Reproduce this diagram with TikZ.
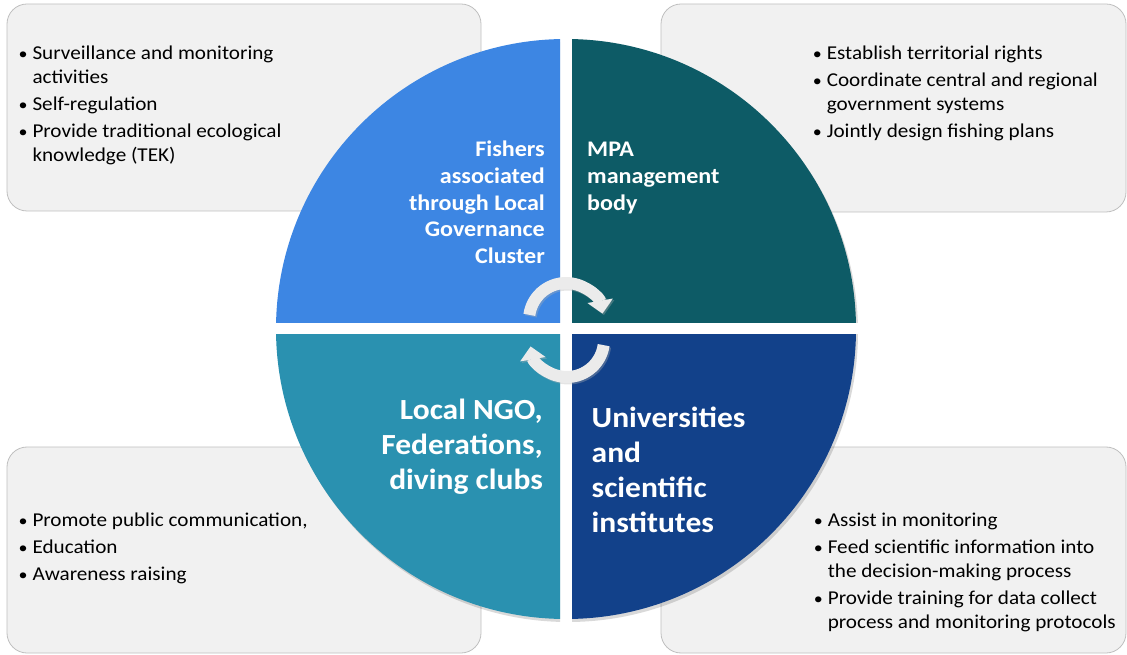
\documentclass[tikz,border=0pt]{standalone}
\usepackage{fontspec}
\setmainfont{Carlito}[FakeStretch=1.08]
\usetikzlibrary{positioning, arrows.meta}

\definecolor{fishblue}{HTML}{3D86E3}
\definecolor{mpateal}{HTML}{0D5B66}
\definecolor{ngoblue}{HTML}{2A91B0}
\definecolor{uninavy}{HTML}{12418A}
\definecolor{boxfill}{HTML}{F1F1F1}
\definecolor{boxline}{HTML}{BFBFBF}
\definecolor{cyclegray}{HTML}{EBEBEB}

\newcommand{\bul}{\makebox[19pt][c]{\scalebox{0.85}{\textbullet}}}
\newcommand{\nobul}{\hspace*{19pt}}

\begin{document}
\begin{tikzpicture}[x=1pt, y=1pt]
\tikzset{
  infobox/.style={draw=boxline, fill=boxfill, line width=0.8pt,
    rounded corners=20pt, inner sep=0pt},
  bullets/.style={align=left, inner sep=0pt,
    font=\fontsize{19.6}{24}\selectfont},
  rolesmall/.style={text=white, inner sep=0pt,
    font=\bfseries\fontsize{22.3}{26.67}\selectfont},
  rolebig/.style={text=white, inner sep=0pt,
    font=\bfseries\fontsize{29.2}{35}\selectfont},
  cyclearrow/.style={draw=cyclegray, line width=12pt,
    -{Triangle[length=13pt, width=25pt]}},
  cycleshadow/.style={cyclearrow, draw=black!30, opacity=0.35},
}

\useasboundingbox (0,0) rectangle (1127,654);

% grey boxes behind the wheel
\node[infobox, minimum width=474pt, minimum height=207pt] (tlbox) at (244,546.5) {};
\node[infobox, minimum width=465pt, minimum height=208pt] (trbox) at (893.5,546) {};
\node[infobox, minimum width=474pt, minimum height=206pt] (blbox) at (244,104) {};
\node[infobox, minimum width=465pt, minimum height=206pt] (brbox) at (893.5,104) {};

% the wheel
\coordinate (hub) at (566,325);
\foreach \sx/\sy/\col in {-1/1/fishblue, 1/1/mpateal, -1/-1/ngoblue, 1/-1/uninavy}{
  \begin{scope}
    \clip ([shift={(6*\sx,6*\sy)}]hub) rectangle ++(300*\sx,300*\sy);
    \fill[black, opacity=0.15] ([shift={(2,-3)}]hub) circle (290pt);
    \fill[\col] (hub) circle (290pt);
  \end{scope}
}

% cycle arrows
\coordinate (upcyc) at (566,334);
\coordinate (lowcyc) at (567,314);
\draw[cycleshadow] ([shift={(1.5,-1.5)}]upcyc) ++(172:37pt) arc (172:10:37pt);
\draw[cycleshadow] ([shift={(1.5,-1.5)}]lowcyc) ++(-8:37pt) arc (-8:-170:37pt);
\draw[cyclearrow] (upcyc) ++(172:37pt) arc (172:10:37pt);
\draw[cyclearrow] (lowcyc) ++(-8:37pt) arc (-8:-170:37pt);

% roles
\node[rolesmall, align=right, anchor=north east] (fishers) at (545,516)
  {\strut Fishers\\associated\\through Local\\Governance\\Cluster};
\node[rolesmall, align=left, anchor=north west] (mpa) at (587,516)
  {\strut MPA\\management\\body};
\node[rolebig, align=right, anchor=north east] (ngo) at (543,259.2)
  {\strut Local NGO,\\Federations,\\diving clubs};
\node[rolebig, align=left, anchor=north west] (uni) at (591.5,250.8)
  {\strut Universities\\and\\scientific\\institutes};

% tasks
\node[bullets, below right=39.2pt and 6.7pt of tlbox.north west] (fishtasks)
  {\strut\bul Surveillance and monitoring\\\nobul activities\\[3pt]
   \bul Self-regulation\\[3pt]
   \bul Provide traditional ecological\\\nobul knowledge (TEK)};
\node[bullets, below right=39.2pt and 147pt of trbox.north west] (mpatasks)
  {\strut\bul Establish territorial rights\\[3pt]
   \bul Coordinate central and regional\\\nobul government systems\\[3pt]
   \bul Jointly design fishing plans};
\node[bullets, below right=63.2pt and 6.7pt of blbox.north west] (ngotasks)
  {\strut\bul Promote public communication,\\[3pt]
   \bul Education\\[3pt]
   \bul Awareness raising};
\node[bullets, below right=63.2pt and 148pt of brbox.north west] (unitasks)
  {\strut\bul Assist in monitoring\\[3pt]
   \bul Feed scientific information into\\\nobul the decision-making process\\[3pt]
   \bul Provide training for data collect\\\nobul process and monitoring protocols};
\end{tikzpicture}
\end{document}
